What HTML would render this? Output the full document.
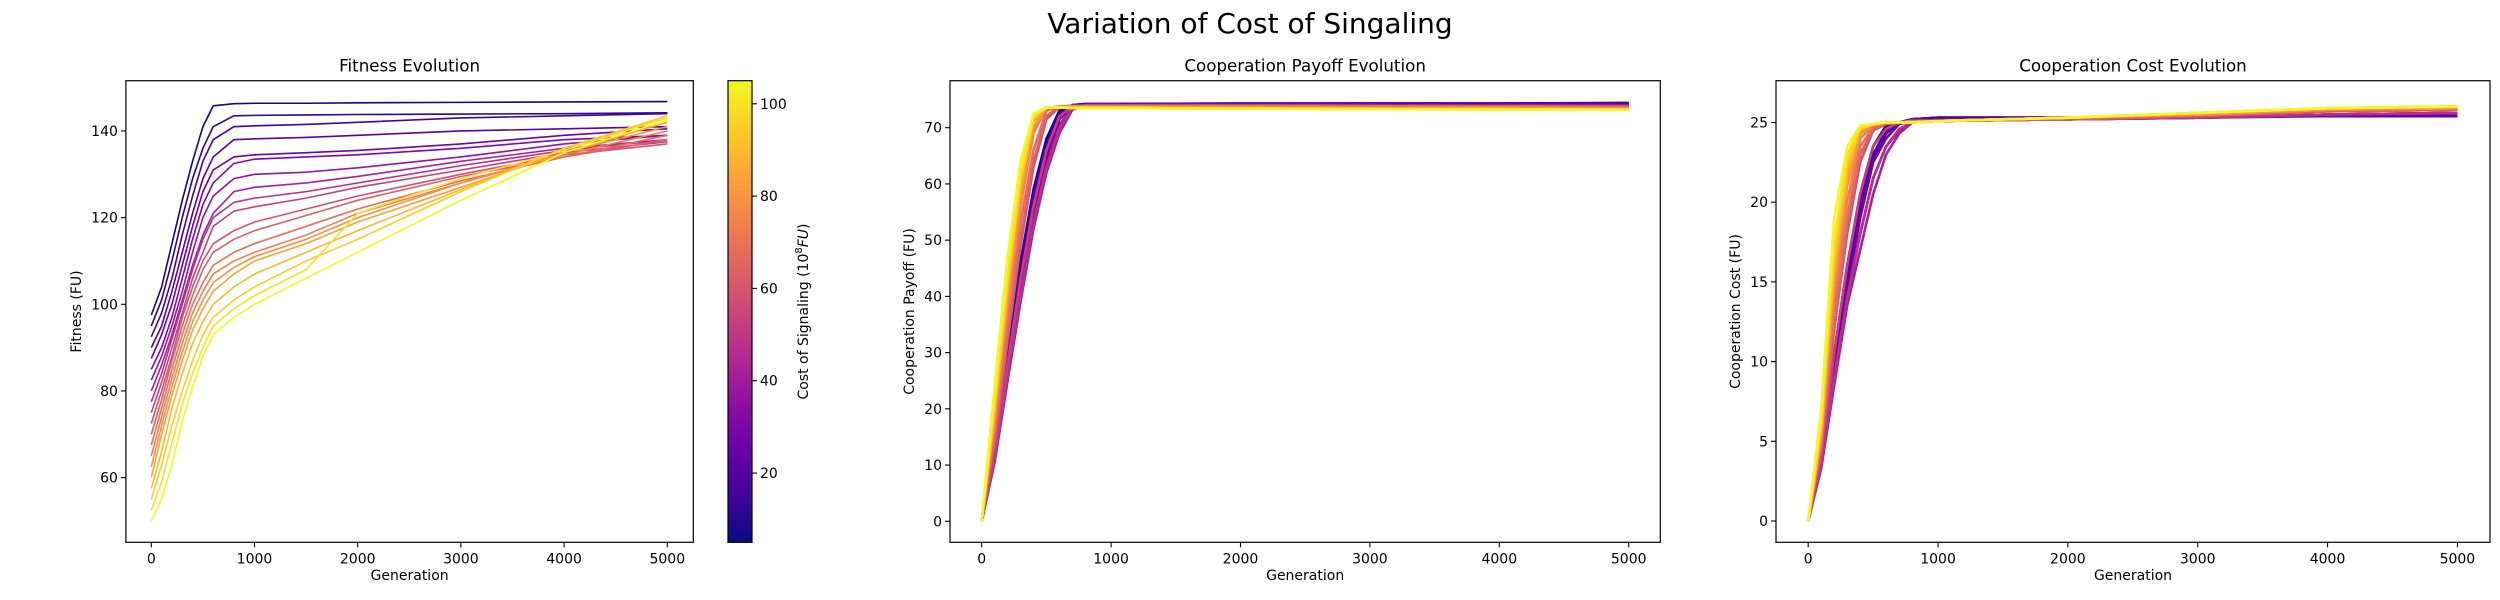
<!DOCTYPE html>
<html><head><meta charset="utf-8">
<style>
html,body{margin:0;padding:0;background:#fff;}
svg{display:block;font-family:"DejaVu Sans","Liberation Sans",sans-serif;}
</style></head>
<body>
<svg id="fig" width="2500" height="600" viewBox="0 0 2500 600" xmlns="http://www.w3.org/2000/svg">
<defs>
<linearGradient id="plasma" x1="0" y1="1" x2="0" y2="0">
<stop offset="0" stop-color="#0d0887"/><stop offset="0.1" stop-color="#41049d"/><stop offset="0.2" stop-color="#6a00a8"/>
<stop offset="0.3" stop-color="#8f0da4"/><stop offset="0.4" stop-color="#b12a90"/><stop offset="0.5" stop-color="#cc4778"/>
<stop offset="0.6" stop-color="#e16462"/><stop offset="0.7" stop-color="#f2844b"/><stop offset="0.8" stop-color="#fca636"/>
<stop offset="0.9" stop-color="#fcce25"/><stop offset="1" stop-color="#f0f921"/>
</linearGradient>
</defs>
<text x="1250" y="33" font-size="28" text-anchor="middle">Variation of Cost of Singaling</text>
<g id="root"></g>
</svg>
<script>
// ---------- data ----------
const costs = [5,10.3,15.5,20.8,26.1,31.3,36.6,41.8,47.1,52.4,57.6,62.9,68.2,73.4,78.7,83.9,89.2,94.5,99.7,105];
const fitGens = [0,100,200,300,400,500,600,800,1000,1500,2000,3000,4000,5000];
const fitness = [
[97.5,104,114,124,133,141,145.8,146.3,146.4,146.4,146.5,146.6,146.7,146.8],
[95,101,110,120,129,136,141,143.5,143.6,143.7,143.8,143.9,144,144.2],
[92.5,98,106,116,125,133,138,141,141.2,141.5,142,143,143.5,144],
[90,95,103,112,121,129,134,138,138.2,138.5,139,140,140.5,141],
[87.5,93,100,109,118,126,131,134,134.5,135,135.5,137,139,140.5],
[85,90,97,106,115,123,128,132.5,133.5,134,134.5,136,138,139],
[82.5,88,95,103,112,120,125,129,130,130.5,131.5,134,137,139],
[80,86,93,101,109,116,121,126,127,128,129.5,133,136,138],
[77.5,84,92,100,108,115,120,123.5,124.5,126,128,132,135.5,138],
[75,82,90,98,106,112,118,121.5,122.5,124.5,127,131,135,137.5],
[72.5,80,88,97,104,110,114,117,119,122,125,130,134.5,137],
[70,78,87,95,102,108,112,115,117,120.5,124,129.5,134,138],
[67.5,76,85,93,100,105,109,112,114,118,122,128.5,134,139],
[65,74,83,91,98,103,107,110,112,116,121,128,134.5,140],
[62.5,72,81,89,96,101,105,108.5,111,115,120,128,135,141],
[60,70,79,87,94,99,103,107,110,114,119,127,135,142],
[57.5,66,76,84,91,96,100,104,107,112,117,126.5,136,143],
[55,63,72,80,87,93,97,101,104,110,115,126,136,143.5],
[52.5,59,68,77,84,90,95,99,102,108,121,129,135.5,143],
[50,55,63,73,81,88,93,97,100,106,112,124,135,142.5]
];
const coopGens = [0,100,200,300,400,500,600,700,800,1000,2000,3000,4000,5000];
const payoff = [
[0,13,30,46,59,68,73,74,74.2,74.2,74.3,74.3,74.3,74.4],
[0,13,29,45,58,67,72.5,74,74.2,74.2,74.3,74.3,74.3,74.3],
[0,12.5,29,45,58,67,72.5,74,74.2,74.2,74.2,74.3,74.3,74.3],
[0,12,28,44,57,66,72,73.9,74.1,74.1,74.2,74.2,74.2,74.2],
[0,12,28,43,56,65,71.5,73.8,74.1,74.1,74.1,74.2,74.1,74.1],
[0,11,27,41,54,64,70.5,73.5,74,74,74,74,74,74],
[0,11,26,40,53,63,70,73.5,74,74,74,74,73.9,73.9],
[0,10.5,25,39,52,62,69,73.2,74,74,74,74,73.9,73.9],
[0,11,26,40,53,63,70,73.5,74,74,74,73.9,73.9,73.9],
[0,12,28,43,56,66,72,73.8,73.9,73.9,73.9,73.8,73.8,73.8],
[0,14,32,49,63,71.5,73.7,73.9,73.9,73.9,73.9,73.8,73.8,73.7],
[0,15,33,50,64,72,73.8,73.9,73.9,73.9,73.9,73.8,73.8,73.7],
[0,16,35,53,66,73,73.8,73.8,73.8,73.8,73.8,73.7,73.7,73.6],
[0,18,38,56,69,73.5,73.8,73.8,73.8,73.8,73.7,73.6,73.6,73.5],
[0,18,39,57,70,73.5,73.7,73.7,73.7,73.7,73.6,73.5,73.5,73.4],
[0,20,41,59,71,73.6,73.6,73.6,73.6,73.6,73.5,73.4,73.4,73.3],
[0,20,42,60,71.5,73.6,73.6,73.6,73.6,73.5,73.4,73.3,73.3,73.2],
[0,21,43,61,72,73.6,73.6,73.5,73.5,73.5,73.4,73.3,73.3,73.2],
[0,22,44,62,72,73.6,73.6,73.5,73.5,73.5,73.4,73.3,73.3,73.2],
[0,24,47,64,72.5,73.6,73.6,73.5,73.5,73.5,73.4,73.3,73.2,73.2]
];
const coopCost = [
[0,4,10.5,16,20.5,23.5,24.8,25,25.2,25.3,25.3,25.4,25.4,25.4],
[0,4,10.5,16,20.5,23.5,24.7,25,25.2,25.3,25.3,25.4,25.4,25.4],
[0,3.8,10,15.5,20,23,24.5,25,25.2,25.3,25.3,25.4,25.4,25.4],
[0,3.8,10,15,19.5,22.8,24.3,25,25.2,25.3,25.3,25.4,25.4,25.4],
[0,3.7,9.5,14.5,19,22.5,24,24.9,25.1,25.2,25.2,25.3,25.4,25.5],
[0,3.5,9,14,18,21.5,23.5,24.5,25,25.1,25.2,25.3,25.5,25.6],
[0,3.5,9,14,18,21.5,23.5,24.5,25,25.1,25.2,25.3,25.5,25.6],
[0,3.3,8.5,13.5,17,20.5,23,24.3,25,25.1,25.2,25.3,25.5,25.6],
[0,3.5,9,14,18,21.5,23.5,24.6,25,25.1,25.2,25.3,25.5,25.6],
[0,4,10.5,16,20.5,23.5,24.6,25,25.1,25.1,25.2,25.4,25.7,25.8],
[0,4.5,12,18,22.5,24.5,24.9,25,25.1,25.1,25.2,25.4,25.7,25.8],
[0,4.5,12,18.5,23,24.6,24.9,25,25.1,25.1,25.2,25.4,25.7,25.8],
[0,5,13,19,23.5,24.7,25,25,25.1,25.1,25.3,25.5,25.8,25.9],
[0,5,14,20,24,24.8,25,25,25.1,25.1,25.3,25.5,25.8,25.9],
[0,5.5,15,21,24.3,24.9,25,25,25,25.1,25.3,25.5,25.8,25.9],
[0,5.5,15.5,21.5,24.5,24.9,25,25,25,25.1,25.3,25.6,25.9,26],
[0,6,16,22,24.6,24.9,25,25,25,25.1,25.3,25.6,25.9,26],
[0,6,17,22.5,24.6,24.9,25,25,25,25.1,25.3,25.6,25.9,26],
[0,6.5,17.5,23,24.7,24.9,25,25,25,25.1,25.3,25.6,25.9,26],
[0,7,19,23.5,24.8,24.9,25,25,25,25.1,25.3,25.6,25.9,26]
];
const fitTicks = [60,80,100,120,140];
const payTicks = [0,10,20,30,40,50,60,70];
const costTicks = [0,5,10,15,20,25];
const genTicks = [0,1000,2000,3000,4000,5000];
const cbTicks = [20,40,60,80,100];

// ---------- helpers ----------
const NS = "http://www.w3.org/2000/svg";
const root = document.getElementById('root');
function mk(tag, attrs, parent){
  const e = document.createElementNS(NS, tag);
  for (const k in attrs) e.setAttribute(k, attrs[k]);
  (parent||root).appendChild(e);
  return e;
}
const stops = ["#0d0887","#41049d","#6a00a8","#8f0da4","#b12a90","#cc4778","#e16462","#f2844b","#fca636","#fcce25","#f0f921"];
function hex(h){return [parseInt(h.substr(1,2),16),parseInt(h.substr(3,2),16),parseInt(h.substr(5,2),16)];}
function plasma(t){
  t=Math.max(0,Math.min(1,t)); const f=t*10; const i=Math.min(9,Math.floor(f)); const r=f-i;
  const a=hex(stops[i]), b=hex(stops[i+1]);
  return `rgb(${Math.round(a[0]+(b[0]-a[0])*r)},${Math.round(a[1]+(b[1]-a[1])*r)},${Math.round(a[2]+(b[2]-a[2])*r)})`;
}
const cMin=5, cMax=105;

function panel(cfg){
  const g = mk('g', {});
  
  
  const xs = v => cfg.x0px + (v/1000)*cfg.pxPer1000;
  const ys = v => cfg.yRefPx - (v - cfg.yRef)*cfg.pxPerUnit;
  cfg.series.forEach((arr, i) => {
    const pts = arr.map((v, j) => xs(cfg.gens[j]).toFixed(2)+','+ys(v).toFixed(2)).join(' ');
    const pl = mk('polyline', {points: pts, fill:'none', stroke: plasma((costs[i]-cMin)/(cMax-cMin)), 'stroke-width': cfg.sw, 'stroke-linejoin':'round'}, g);
    
    
  });
  const fr = mk('rect', {x:cfg.L, y:cfg.T, width:cfg.R-cfg.L, height:cfg.B-cfg.T, fill:'none', stroke:'#000', 'stroke-width':1.2}, g);
  
  
  genTicks.forEach(t => {
    const x = xs(t);
    mk('line', {x1:x, x2:x, y1:cfg.B, y2:cfg.B+5, stroke:'#000', 'stroke-width':1.1}, g);
    const tx = mk('text', {x:x, y:cfg.B+21, 'font-size':14, 'text-anchor':'middle'}, g);
    tx.textContent = t;
    
    
  });
  cfg.yTicks.forEach(t => {
    const y = ys(t);
    mk('line', {x1:cfg.L-5, x2:cfg.L, y1:y, y2:y, stroke:'#000', 'stroke-width':1.1}, g);
    const tx = mk('text', {x:cfg.L-8, y:y+5, 'font-size':14, 'text-anchor':'end'}, g);
    tx.textContent = t;
    
    
  });
  const cx = (cfg.L+cfg.R)/2, cy = (cfg.T+cfg.B)/2;
  const ti = mk('text', {x:cx, y:cfg.T-9, 'font-size':16.7, 'text-anchor':'middle'}, g);
  ti.textContent = cfg.title;
  
  
  const xl = mk('text', {x:cx, y:580, 'font-size':14, 'text-anchor':'middle'}, g);
  xl.textContent = 'Generation';
  
  
  const yl = mk('text', {x:0, y:0, 'font-size':14, 'text-anchor':'middle', transform:`translate(${cfg.ylx},${cy}) rotate(-90)`}, g);
  yl.textContent = cfg.ylabel;
  
  
}

panel({name:'fitness-panel', short:'fitness', title:'Fitness Evolution', ylabel:'Fitness (FU)',
  L:125.9, R:693.3, T:80.7, B:542.3, x0px:151.3, pxPer1000:103.2, yRef:100, yRefPx:304.3, pxPerUnit:4.333,
  gens:fitGens, series:fitness, yTicks:fitTicks, ylx:81, sw:1.6});
panel({name:'payoff-panel', short:'payoff', title:'Cooperation Payoff Evolution', ylabel:'Cooperation Payoff (FU)',
  L:950, R:1660.3, T:80.7, B:542.3, x0px:981.7, pxPer1000:129.4, yRef:0, yRefPx:521.3, pxPerUnit:5.623,
  gens:coopGens, series:payoff, yTicks:payTicks, ylx:914, sw:2.6});
panel({name:'cost-panel', short:'cost', title:'Cooperation Cost Evolution', ylabel:'Cooperation Cost (FU)',
  L:1776, R:2490, T:80.7, B:542.3, x0px:1808.2, pxPer1000:129.84, yRef:0, yRefPx:521, pxPerUnit:15.94,
  gens:coopGens, series:coopCost, yTicks:costTicks, ylx:1740, sw:2.6});

const cbL=728, cbR=752, cbT=80.7, cbB=542.3;
const cbs = v => cbB - (v-cMin)/(cMax-cMin)*(cbB-cbT);
const cbg = mk('g', {});


const cbr = mk('rect', {x:cbL, y:cbT, width:cbR-cbL, height:cbB-cbT, fill:'url(#plasma)', stroke:'#000', 'stroke-width':1.2}, cbg);


cbTicks.forEach(t => {
  const y = cbs(t);
  mk('line', {x1:cbR, x2:cbR+5, y1:y, y2:y, stroke:'#000', 'stroke-width':1.1}, cbg);
  const tx = mk('text', {x:cbR+8, y:y+5, 'font-size':14}, cbg);
  tx.textContent = t;
  
  
});
const cbl = mk('text', {x:0, y:0, 'font-size':14, 'text-anchor':'middle', transform:`translate(808,${(cbT+cbB)/2}) rotate(-90)`}, cbg);
cbl.innerHTML = 'Cost of Signaling (10<tspan dy="-6" font-size="10">8</tspan><tspan dy="6" font-style="italic">FU</tspan>)';


</script>
</body></html>
